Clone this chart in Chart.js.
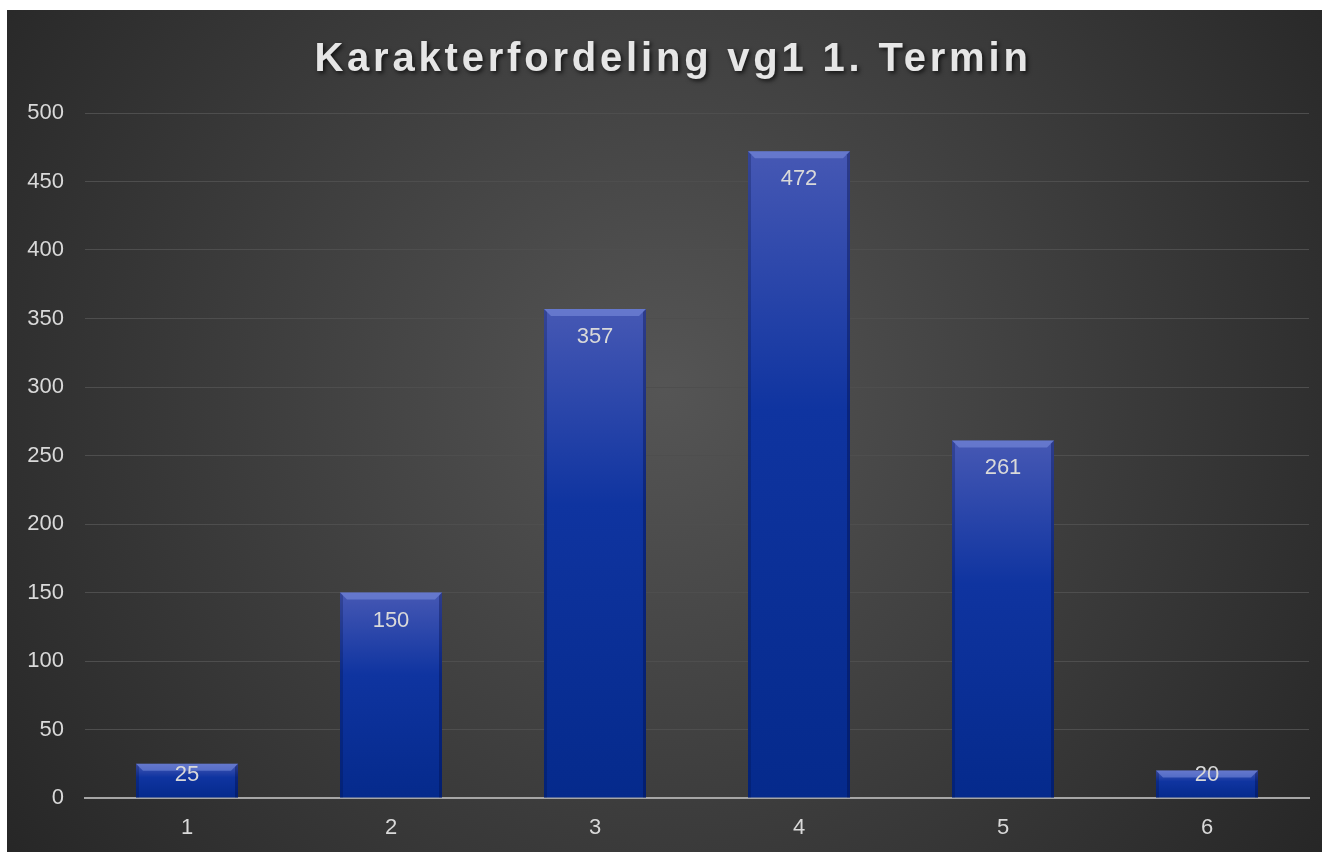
<!DOCTYPE html>
<html>
<head>
<meta charset="utf-8">
<script src="https://cdn.jsdelivr.net/npm/chart.js@4.4.1/dist/chart.umd.min.js"></script>
<style>
  html, body { margin: 0; padding: 0; background: #ffffff; }
  #wrap { position: absolute; left: 7px; top: 10px; width: 1315px; height: 842px; }
</style>
</head>
<body>
<div id="wrap"><canvas id="grafico"></canvas></div>
<script>
// karakterer og antall elever
const karakterer = ['1', '2', '3', '4', '5', '6'];
const antall = [25, 150, 357, 472, 261, 20];
const tittel = 'Karakterfordeling vg1 1. Termin';

// bakgrunn med radial gradient
const bakgrunnPlugin = {
  id: 'bakgrunn',
  beforeDraw(chart) {
    const ctx = chart.ctx;
    const w = chart.width, h = chart.height;
    const g = ctx.createRadialGradient(w * 0.5, h * 0.45, 0, w * 0.5, h * 0.45, w * 0.62);
    g.addColorStop(0, '#555555');
    g.addColorStop(1, '#262626');
    ctx.save();
    ctx.fillStyle = g;
    ctx.fillRect(0, 0, w, h);
    ctx.restore();

    // tittel med bokstavavstand og skygge
    const tb = chart.titleBlock;
    if (tb && !tb._patchet) {
      const orig = tb.draw;
      tb.draw = function () {
        const c = this.ctx;
        c.save();
        c.translate(15, 0);
        c.letterSpacing = '3.8px';
        c.shadowColor = 'rgba(0,0,0,0.7)';
        c.shadowBlur = 4;
        c.shadowOffsetX = 2;
        c.shadowOffsetY = 2;
        orig.apply(this, arguments);
        c.restore();
      };
      tb._patchet = true;
    }
  }
};

// skrå kanter på søylene + tall inni søylene
const soylePlugin = {
  id: 'soyler',
  afterDatasetsDraw(chart) {
    const ctx = chart.ctx;
    const meta = chart.getDatasetMeta(0);
    ctx.save();
    meta.data.forEach((bar, i) => {
      const left = bar.x - bar.width / 2;
      const right = bar.x + bar.width / 2;
      const top = bar.y;
      const bunn = bar.base;
      const b = Math.min(7, (bunn - top) / 2);
      // topp
      ctx.fillStyle = 'rgba(140,160,235,0.45)';
      ctx.beginPath();
      ctx.moveTo(left, top);
      ctx.lineTo(right, top);
      ctx.lineTo(right - b, top + b);
      ctx.lineTo(left + b, top + b);
      ctx.closePath();
      ctx.fill();
      // sider
      ctx.fillStyle = 'rgba(0,10,60,0.35)';
      ctx.beginPath();
      ctx.moveTo(right, top);
      ctx.lineTo(right, bunn);
      ctx.lineTo(right - 3, bunn);
      ctx.lineTo(right - 3, top + 3);
      ctx.closePath();
      ctx.fill();
      ctx.fillStyle = 'rgba(0,10,60,0.25)';
      ctx.beginPath();
      ctx.moveTo(left, top);
      ctx.lineTo(left + 3, top + 3);
      ctx.lineTo(left + 3, bunn);
      ctx.lineTo(left, bunn);
      ctx.closePath();
      ctx.fill();

      // verdi
      ctx.fillStyle = '#d9d9d9';
      ctx.font = '22px "Liberation Sans", Arial, sans-serif';
      ctx.textAlign = 'center';
      ctx.textBaseline = 'middle';
      const y = Math.min(top + 28, bunn - 23);
      ctx.fillText(String(antall[i]), bar.x, y);
    });
    ctx.restore();
  }
};

function soyleFarge(context) {
  const chart = context.chart;
  const area = chart.chartArea;
  if (!area) return '#0d33a0';
  const verdi = context.raw;
  const yTopp = chart.scales.y.getPixelForValue(verdi);
  const yBunn = chart.scales.y.getPixelForValue(0);
  if (yBunn - yTopp < 1) return '#0d33a0';
  const g = chart.ctx.createLinearGradient(0, yTopp, 0, yBunn);
  g.addColorStop(0, '#4658b4');
  g.addColorStop(0.4, '#0f34a0');
  g.addColorStop(1, '#052a8c');
  return g;
}

const ctx = document.getElementById('grafico').getContext('2d');
new Chart(ctx, {
  type: 'bar',
  data: {
    labels: karakterer,
    datasets: [{
      label: 'Antall',
      data: antall,
      backgroundColor: soyleFarge,
      borderWidth: 0,
      barPercentage: 0.5,
      categoryPercentage: 1.0
    }]
  },
  options: {
    responsive: true,
    maintainAspectRatio: false,
    animation: false,
    layout: {
      padding: { left: 0, right: 13, top: 0, bottom: 0 }
    },
    plugins: {
      legend: { display: false },
      tooltip: { enabled: false },
      title: {
        display: true,
        text: tittel,
        color: '#e6e6e6',
        font: { family: '"Liberation Sans", Arial, sans-serif', size: 40, weight: 'bold' },
        padding: { top: 26, bottom: 29 }
      }
    },
    scales: {
      x: {
        grid: { display: false, drawTicks: false },
        border: { display: true, color: '#a6a6a6', width: 2 },
        ticks: {
          color: '#d9d9d9',
          font: { family: '"Liberation Sans", Arial, sans-serif', size: 22 },
          padding: 17
        },
        afterFit(scale) { scale.height = 54; }
      },
      y: {
        min: 0,
        max: 500,
        ticks: {
          stepSize: 50,
          color: '#d9d9d9',
          font: { family: '"Liberation Sans", Arial, sans-serif', size: 22 },
          padding: 21
        },
        grid: { color: '#4e4e4e', lineWidth: 1, drawTicks: false },
        border: { display: false },
        afterFit(scale) { scale.width = 78; }
      }
    }
  },
  plugins: [bakgrunnPlugin, soylePlugin]
});
</script>
</body>
</html>
